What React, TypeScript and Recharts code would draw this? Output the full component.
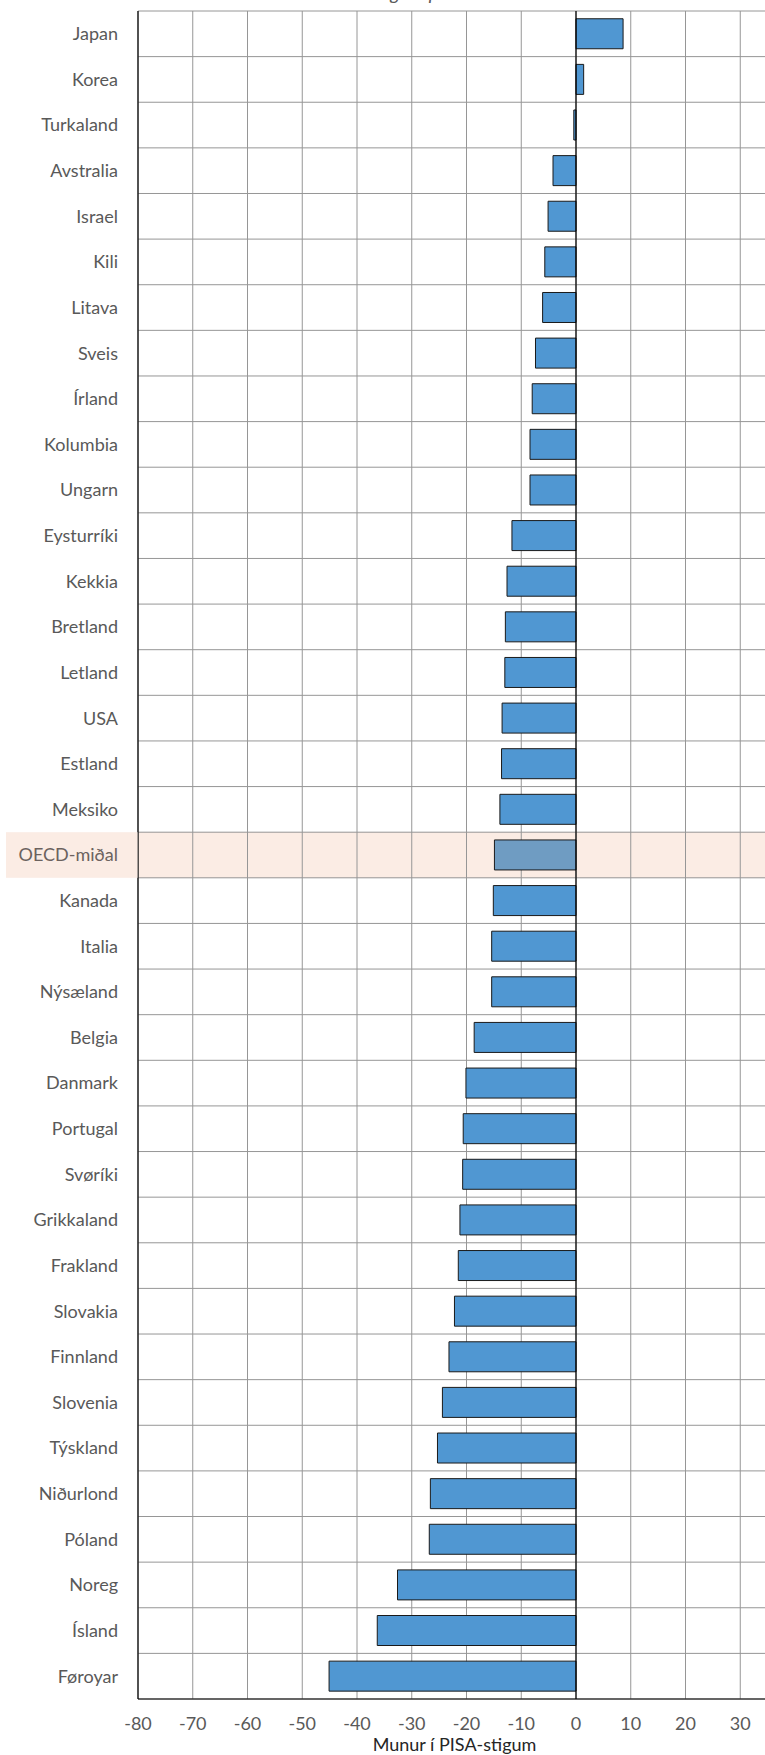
import React from 'react';
import { BarChart, Bar, XAxis, YAxis, CartesianGrid, ReferenceLine, Cell, Label } from 'recharts';

const countries = [
  'Japan', 'Korea', 'Turkaland', 'Avstralia', 'Israel', 'Kili', 'Litava', 'Sveis', 'Írland', 'Kolumbia',
  'Ungarn', 'Eysturríki', 'Kekkia', 'Bretland', 'Letland', 'USA', 'Estland', 'Meksiko', 'OECD-miðal', 'Kanada',
  'Italia', 'Nýsæland', 'Belgia', 'Danmark', 'Portugal', 'Svøríki', 'Grikkaland', 'Frakland', 'Slovakia', 'Finnland',
  'Slovenia', 'Týskland', 'Niðurlond', 'Póland', 'Noreg', 'Ísland', 'Føroyar',
];
const differences = [
  8.6, 1.4, -0.4, -4.2, -5.1, -5.7, -6.1, -7.4, -8.0, -8.4,
  -8.4, -11.7, -12.6, -12.9, -13.0, -13.5, -13.6, -13.9, -14.9, -15.1,
  -15.4, -15.4, -18.6, -20.1, -20.6, -20.7, -21.2, -21.5, -22.2, -23.2,
  -24.4, -25.3, -26.6, -26.8, -32.6, -36.3, -45.1,
];
const xTicks = [-80, -70, -60, -50, -40, -30, -20, -10, 0, 10, 20, 30];
const xDomain = [-80, 40];
const highlight = 'OECD-miðal';
const axisTitle = 'Munur í PISA-stigum';
const chartTitle = 'Stigum per';

const data = countries.map((name, i) => ({ name, value: differences[i] }));

const CHART_W = 800;
const CHART_H = 1755;
const MARGIN_TOP = 11;
const XAXIS_H = 56;
const YAXIS_W = 138;
const ROW_H = (CHART_H - MARGIN_TOP - XAXIS_H) / countries.length;
const FONT = 'Lato, "Open Sans", sans-serif';

const CategoryTick = (props: any) => {
  const { x, y, payload } = props;
  const isAvg = payload.value === highlight;
  return (
    <g>
      {isAvg && (
        <rect x={6} y={y - ROW_H / 2} width={x + 19.5 - 6} height={ROW_H} fill="#fbece4" />
      )}
      <text
        x={x}
        y={y}
        dy="0.355em"
        textAnchor="end"
        fill={isAvg ? '#6b625e' : '#595959'}
        fontSize={18}
        fontFamily={FONT}
      >
        {payload.value}
      </text>
    </g>
  );
};

export default function App() {
  return (
    <div style={{ position: 'absolute', left: 0, top: 0, width: 765, height: 1755, overflow: 'hidden', background: '#fff' }}>
      <div
        style={{
          position: 'absolute',
          top: -19,
          left: 370,
          fontStyle: 'italic',
          fontSize: 19,
          color: '#595959',
          fontFamily: FONT,
          whiteSpace: 'nowrap',
        }}
      >
        {chartTitle}
      </div>
      <BarChart
        width={CHART_W}
        height={CHART_H}
        data={data}
        layout="vertical"
        margin={{ top: MARGIN_TOP, right: 5, bottom: 0, left: 0 }}
        barCategoryGap="17%"
      >
        <CartesianGrid
          stroke="#969696"
          strokeWidth={1}
          horizontalFill={countries.map((c) => (c === highlight ? '#fbece4' : 'none'))}
          horizontalCoordinatesGenerator={({ offset }: any) =>
            Array.from({ length: countries.length + 1 }, (_, i) => offset.top + (i * offset.height) / countries.length)
          }
        />
        <XAxis
          type="number"
          domain={xDomain}
          ticks={xTicks}
          interval={0}
          height={XAXIS_H}
          axisLine={{ stroke: '#000', strokeWidth: 1.2 }}
          tickLine={false}
          tickMargin={12}
          tick={{ fill: '#595959', fontSize: 18, fontFamily: FONT }}
        >
          <Label
            value={axisTitle}
            position="insideBottom"
            offset={4}
            dx={-12}
            fill="#262626"
            fontSize={18}
            fontFamily={FONT}
          />
        </XAxis>
        <XAxis
          xAxisId="top"
          orientation="top"
          type="number"
          domain={xDomain}
          height={0}
          tick={false}
          tickLine={false}
          axisLine={{ stroke: '#000', strokeWidth: 1.2 }}
        />
        <YAxis
          type="category"
          dataKey="name"
          width={YAXIS_W}
          interval={0}
          axisLine={{ stroke: '#000', strokeWidth: 1.2 }}
          tickLine={false}
          tickMargin={14}
          tick={<CategoryTick />}
        />
        <ReferenceLine x={0} stroke="#000" strokeWidth={1.2} />
        <Bar dataKey="value" stroke="#1a1a1a" strokeWidth={1} isAnimationActive={false}>
          {data.map((d) => (
            <Cell key={d.name} fill={d.name === highlight ? '#6f9cc2' : '#5097d2'} />
          ))}
        </Bar>
      </BarChart>
    </div>
  );
}
